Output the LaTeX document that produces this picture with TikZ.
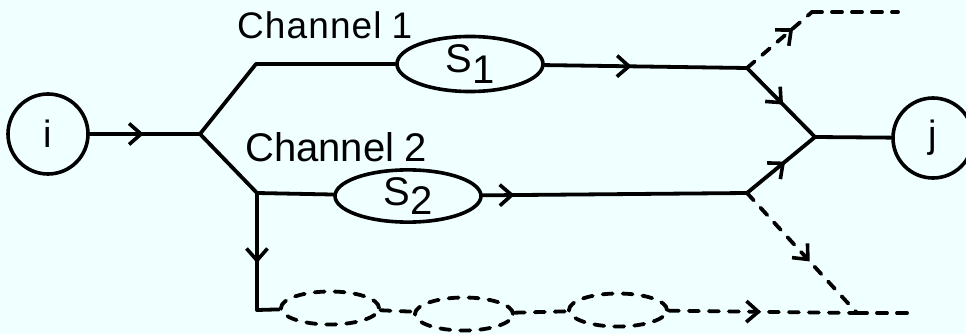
\documentclass[tikz,border=0pt]{standalone}
\usepackage{fontspec}
\setmainfont{Liberation Sans}
\usetikzlibrary{arrows.meta,decorations.markings,shapes.geometric}
\definecolor{bg}{RGB}{240,255,255}
\tikzset{
  ln/.style={line width=3.8pt, line cap=round, line join=round},
  dsh/.style={ln, dash pattern=on 10pt off 10pt},
  midarr/.style={postaction={decorate}, decoration={markings,
      mark=at position #1 with {\arrow{Straight Barb[length=12pt,width=21pt,line width=3.6pt]}}}},
  circ/.style={circle, draw, line width=3.6pt, minimum size=80pt, inner sep=0pt,
      font=\fontsize{38}{38}\selectfont},
  sbox/.style={ellipse, draw, line width=3.6pt, minimum width=146pt, minimum height=51pt,
      inner sep=0pt, font=\fontsize{40}{40}\selectfont},
  dell/.style={ellipse, draw, dsh, minimum width=98pt, minimum height=33pt, inner sep=0pt},
  lbl/.style={anchor=west, inner sep=0pt},
}
\begin{document}
\begin{tikzpicture}[x=1pt,y=-1pt]
  \fill[bg] (0,0) rectangle (966,334);
  \useasboundingbox (0,0) rectangle (966,334);

  % nodes
  \node[circ] (i) at (48,134) {i};
  \node[circ] (j) at (933,138) {j};
  \node[sbox] (S1) at (470,64) {S\raisebox{-11pt}{1}};
  \node[sbox] (S2) at (408,196) {S\raisebox{-9pt}{2}};
  \node[dell] (E1) at (330,308) {};
  \node[dell] (E2) at (464,314) {};
  \node[dell] (E3) at (618,310) {};
  \node[lbl, font=\fontsize{37}{37}\selectfont\addfontfeature{LetterSpace=3}] (ch1) at (237,25) {Channel\hspace{10pt}1};
  \node[lbl, font=\fontsize{40}{40}\selectfont] (ch2) at (245,147) {Channel\hspace{10pt}2};

  % junction points
  \coordinate (b0) at (200,134);
  \coordinate (c1) at (256,64);
  \coordinate (c2) at (257,193);
  \coordinate (c3) at (257,310);
  \coordinate (u) at (747,68);
  \coordinate (l) at (747,193);
  \coordinate (m) at (815,137);
  \coordinate (t1) at (812,12);
  \coordinate (t2) at (898,12);
  \coordinate (b3) at (857,313);
  \coordinate (b4) at (907,313);

  % solid connectors
  \draw[ln, midarr=0.49] (i.east) -- (b0);
  \draw[ln] (b0) -- (c1) -- (S1);
  \draw[ln] (b0) -- (c2) -- (S2);
  \draw[ln, midarr=0.43] (S1) -- (u);
  \draw[ln, midarr=0.12] (S2) -- (l);
  \draw[ln, midarr=0.53] (u) -- (m);
  \draw[ln, midarr=0.56] (l) -- (m);
  \draw[ln] (m) -- (j);
  \draw[ln, midarr=0.6] (c2) -- (c3);
  \draw[ln] (c3) -- (E1);

  % dashed connectors
  \draw[dsh, midarr=0.71] (u) -- (t1);
  \draw[dsh] (t1) -- (t2);
  \draw[dsh, midarr=0.57] (l) -- (b3);
  \draw[dsh] (E1) -- (E2);
  \draw[dsh] (E2) -- (E3);
  \draw[dsh, midarr=0.49] (E3) -- (b3);
  \draw[dsh] (b3) -- (b4);
\end{tikzpicture}
\end{document}
